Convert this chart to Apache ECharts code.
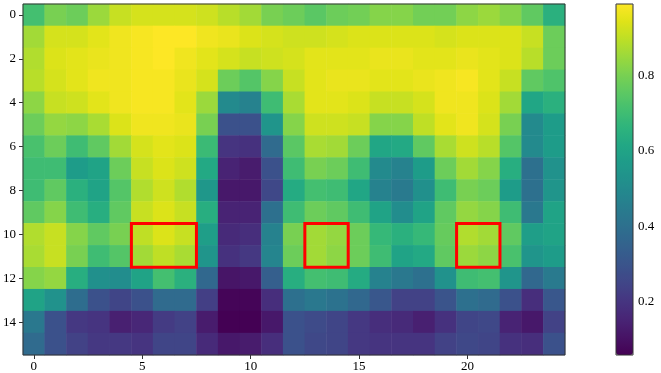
<!DOCTYPE html>
<html>
<head>
<meta charset="utf-8">
<script src="https://cdn.jsdelivr.net/npm/echarts@6/dist/echarts.min.js"></script>
<style>html,body{margin:0;padding:0;background:#fff}#c{width:661px;height:373px}</style>
</head>
<body>
<div id="c"></div>
<script>
// categories
const xLabels = Array.from({length: 25}, (_, i) => String(i));
const yLabels = Array.from({length: 16}, (_, i) => String(i));
// colorbar range and ticks
const vMin = 0.059;
const vMax = 0.99;
const cbTicks = [0.2, 0.4, 0.6, 0.8];
// highlighted boxes: [col0, col1, row0, row1]
const boxes = [[5, 7, 10, 11], [13, 14, 10, 11], [20, 21, 10, 11]];
// values per row (row 0 at top)
const row0  = [0.71,0.80,0.78,0.85,0.91,0.93,0.93,0.93,0.92,0.89,0.86,0.80,0.78,0.75,0.78,0.79,0.82,0.82,0.79,0.79,0.83,0.85,0.82,0.76,0.65];
const row1  = [0.86,0.93,0.93,0.95,0.97,0.98,0.99,0.99,0.97,0.96,0.94,0.93,0.92,0.92,0.93,0.94,0.94,0.94,0.94,0.93,0.94,0.94,0.94,0.91,0.78];
const row2  = [0.88,0.94,0.95,0.96,0.97,0.98,0.99,0.97,0.95,0.93,0.91,0.92,0.93,0.95,0.95,0.95,0.96,0.96,0.95,0.95,0.96,0.95,0.94,0.89,0.78];
const row3  = [0.89,0.93,0.95,0.97,0.97,0.98,0.98,0.96,0.93,0.78,0.74,0.82,0.91,0.95,0.96,0.96,0.95,0.95,0.96,0.97,0.98,0.95,0.91,0.76,0.73];
const row4  = [0.83,0.91,0.92,0.95,0.97,0.98,0.98,0.95,0.85,0.50,0.47,0.70,0.87,0.95,0.95,0.94,0.91,0.91,0.93,0.97,0.97,0.94,0.86,0.61,0.65];
const row5  = [0.78,0.84,0.83,0.87,0.94,0.97,0.97,0.96,0.80,0.29,0.29,0.54,0.82,0.92,0.92,0.91,0.82,0.82,0.90,0.95,0.97,0.93,0.80,0.50,0.57];
const row6  = [0.72,0.78,0.70,0.76,0.86,0.93,0.95,0.94,0.69,0.20,0.19,0.38,0.75,0.87,0.86,0.78,0.61,0.62,0.76,0.87,0.92,0.89,0.74,0.50,0.57];
const row7  = [0.70,0.70,0.57,0.60,0.78,0.91,0.94,0.92,0.62,0.15,0.13,0.29,0.70,0.80,0.78,0.70,0.50,0.47,0.57,0.78,0.86,0.82,0.64,0.40,0.53];
const row8  = [0.70,0.76,0.65,0.60,0.74,0.88,0.92,0.88,0.55,0.12,0.12,0.26,0.63,0.71,0.70,0.61,0.47,0.44,0.52,0.70,0.80,0.78,0.57,0.40,0.54];
const row9  = [0.76,0.82,0.70,0.64,0.76,0.91,0.94,0.91,0.64,0.15,0.15,0.40,0.70,0.78,0.76,0.70,0.60,0.51,0.60,0.76,0.84,0.82,0.70,0.43,0.60];
const row10 = [0.88,0.91,0.82,0.76,0.80,0.90,0.94,0.91,0.58,0.17,0.18,0.47,0.80,0.86,0.84,0.78,0.68,0.65,0.68,0.77,0.88,0.86,0.76,0.58,0.60];
const row11 = [0.87,0.91,0.80,0.70,0.74,0.86,0.90,0.87,0.54,0.19,0.21,0.48,0.78,0.86,0.83,0.78,0.70,0.60,0.62,0.76,0.85,0.83,0.72,0.54,0.57];
const row12 = [0.82,0.84,0.64,0.52,0.51,0.60,0.71,0.65,0.37,0.11,0.12,0.34,0.64,0.71,0.70,0.63,0.47,0.43,0.40,0.53,0.70,0.71,0.54,0.37,0.44];
const row13 = [0.60,0.53,0.39,0.29,0.25,0.29,0.38,0.38,0.23,0.07,0.07,0.18,0.40,0.43,0.41,0.37,0.31,0.24,0.24,0.30,0.40,0.38,0.29,0.18,0.31];
const row14 = [0.43,0.29,0.21,0.20,0.14,0.16,0.22,0.24,0.13,0.06,0.06,0.12,0.29,0.27,0.25,0.21,0.18,0.17,0.14,0.19,0.25,0.26,0.15,0.12,0.24];
const row15 = [0.38,0.29,0.24,0.21,0.21,0.20,0.25,0.25,0.17,0.12,0.13,0.18,0.29,0.26,0.25,0.21,0.20,0.20,0.20,0.24,0.26,0.25,0.19,0.18,0.29];
const rows = [row0,row1,row2,row3,row4,row5,row6,row7,row8,row9,row10,row11,row12,row13,row14,row15];

const viridis = ['#440154','#471365','#482475','#463480','#414487','#3b528b','#355f8d','#2f6c8e','#2a788e','#25848e','#21918c','#1e9c89','#22a884','#2fb47c','#44bf70','#5ec962','#7ad151','#9bd93c','#bddf26','#dfe318','#fde725'];

const heatData = [];
rows.forEach((r, y) => r.forEach((v, x) => heatData.push([x, y, v])));

const font = 'Liberation Serif, Times New Roman, serif';
const chart = echarts.init(document.getElementById('c'), null, {renderer: 'canvas'});
chart.setOption({
  animation: false,
  backgroundColor: '#fff',
  grid: [
    {left: 21, top: 4, width: 544, height: 351, show: true, borderColor: '#333', borderWidth: 1, z: 10, backgroundColor: 'transparent'},
    {left: 616, top: 4, width: 17, height: 351, show: true, borderColor: '#333', borderWidth: 1, z: 10, backgroundColor: 'transparent'}
  ],
  xAxis: [
    {type: 'category', gridIndex: 0, data: xLabels, position: 'bottom',
     axisLine: {show: false},
     axisTick: {show: true, alignWithLabel: true, length: 4, interval: (i) => i % 5 === 0, lineStyle: {color: '#333'}},
     axisLabel: {interval: (i) => i % 5 === 0, margin: 5, color: '#000', fontFamily: font, fontSize: 13},
     splitLine: {show: false}},
    {type: 'value', gridIndex: 1, show: false, min: 0, max: 1}
  ],
  yAxis: [
    {type: 'category', gridIndex: 0, data: yLabels, inverse: true,
     axisLine: {show: false},
     axisTick: {show: true, alignWithLabel: true, length: 4, interval: 1, lineStyle: {color: '#333'}},
     axisLabel: {interval: 1, margin: 7, color: '#000', fontFamily: font, fontSize: 13},
     splitLine: {show: false}},
    {type: 'value', gridIndex: 1, min: vMin, max: vMax, position: 'right',
     axisLine: {show: false},
     axisTick: {show: true, length: 4, customValues: cbTicks, lineStyle: {color: '#333'}},
     axisLabel: {customValues: cbTicks, margin: 5, color: '#000', fontFamily: font, fontSize: 13, formatter: (v) => v.toFixed(1)},
     splitLine: {show: false}}
  ],
  visualMap: {
    type: 'continuous', min: vMin, max: vMax, seriesIndex: 0, calculable: false,
    orient: 'vertical', left: 616, top: 4, itemWidth: 17, itemHeight: 351, padding: 0,
    text: null, showLabel: false, hoverLink: false, z: 1,
    inRange: {color: viridis}
  },
  series: [
    {type: 'heatmap', xAxisIndex: 0, yAxisIndex: 0, data: heatData,
     itemStyle: {borderWidth: 0}, emphasis: {disabled: true}, progressive: 0},
    {type: 'custom', xAxisIndex: 0, yAxisIndex: 0, data: boxes, z: 5,
     encode: {x: [0, 1], y: [2, 3]},
     renderItem: function (params, api) {
       const p0 = api.coord([api.value(0), api.value(2)]);
       const p1 = api.coord([api.value(1), api.value(3)]);
       const s = api.size([1, 1]);
       const x = Math.min(p0[0], p1[0]) - s[0] / 2;
       const y = Math.min(p0[1], p1[1]) - s[1] / 2;
       return {type: 'rect', shape: {x: x, y: y, width: Math.abs(p1[0] - p0[0]) + s[0], height: Math.abs(p1[1] - p0[1]) + s[1]},
               style: {fill: 'none', stroke: '#ff0000', lineWidth: 3}};
     }}
  ]
});
</script>
</body>
</html>
